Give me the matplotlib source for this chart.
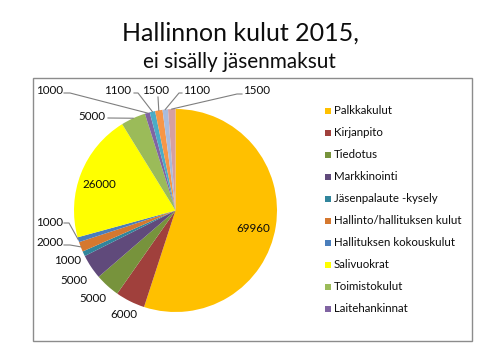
import matplotlib
matplotlib.use("Agg")
import matplotlib.pyplot as plt
import numpy as np
from matplotlib.patches import Rectangle
from matplotlib.lines import Line2D

# ---------------- data ----------------
categories = ["Palkkakulut", "Kirjanpito", "Tiedotus", "Markkinointi",
              "Jäsenpalaute -kysely", "Hallinto/hallituksen kulut",
              "Hallituksen kokouskulut", "Salivuokrat", "Toimistokulut",
              "Laitehankinnat", "", "", "", ""]
values = [69960, 6000, 5000, 5000, 1000, 2000, 1000, 26000, 5000, 1000,
          1100, 1500, 1100, 1500]
legend_count = 10  # only the first ten categories appear in the legend
title_line1 = "Hallinnon kulut 2015,"
title_line2 = "ei sisälly jäsenmaksut"

# ---------------- styles / layout ----------------
colors = ["#FFC000", "#A0403C", "#77933C", "#604A7B", "#31859C", "#D5782F",
          "#4A7EBB", "#FFFF00", "#9BBB59", "#8064A2", "#4BACC6", "#F79646",
          "#A9BCDD", "#D6A0A0"]
FONT = "Lato"
TXT = "#0D0D0D"
W, H = 480, 360
BUMP = 1.06  # slightly taller than pure width fit (reference font is narrower)

fig = plt.figure(figsize=(W / 100, H / 100), dpi=100)
fig.patch.set_facecolor("white")


def fx(px):
    return px / W


def fy(py):
    return 1 - py / H


# chart-area border
fig.patches.append(Rectangle((fx(32.5), fy(341)), fx(472) - fx(32.5), fy(78) - fy(341),
                             transform=fig.transFigure, fill=False,
                             edgecolor="#8C8C8C", linewidth=1.0))

# pie axes
cx, cy, r = 175.5, 210.5, 101.5
ax = fig.add_axes([fx(cx - r), fy(cy + r), 2 * r / W, 2 * r / H])
wedges, _ = ax.pie(values, colors=colors, startangle=90, counterclock=False,
                   radius=1, wedgeprops=dict(linewidth=0))
ax.set_xlim(-1, 1)
ax.set_ylim(-1, 1)
ax.axis("off")

# data-label positions (pixel centres) and leader paths (label side points)
label_pos = [(253, 228), (124, 314), (93, 299), (74, 280), (68, 261), (50, 243),
             (50, 222), (99, 185), (92, 117), (50, 90), (118, 90), (156, 90),
             (197, 90), (257, 90)]
leaders = {
    5: [(64, 245), (70, 245)],
    6: [(64, 223), (69, 223)],
    8: [(108, 118)],
    9: [(64, 93), (70, 93)],
    10: [(134, 93), (138, 93)],
    11: [(158, 97)],
    12: [(182, 93), (179, 93)],
    13: [(242, 94), (237, 94)],
}

fig.canvas.draw()
renderer = fig.canvas.get_renderer()


def fit(t, target):
    w = t.get_window_extent(renderer).width
    t.set_fontsize(t.get_fontsize() * target / w * BUMP)


ref = fig.text(0, 0, "69960", fontsize=9, family=FONT)
fit(ref, 32)
lab_fs = ref.get_fontsize()
ref.remove()

for i, (w, v) in enumerate(zip(wedges, values)):
    px, py = label_pos[i]
    fig.text(fx(px), fy(py), str(v), ha="center", va="center",
             fontsize=lab_fs, family=FONT, color=TXT)
    if i in leaders:
        mid = np.deg2rad((w.theta1 + w.theta2) / 2)
        ax_px = cx + r * np.cos(mid)
        ay_px = cy - r * np.sin(mid)
        pts = leaders[i] + [(ax_px, ay_px)]
        fig.lines.append(Line2D([fx(p[0]) for p in pts], [fy(p[1]) for p in pts],
                                transform=fig.transFigure, color="#7F7F7F",
                                linewidth=0.8))

# titles
t1 = fig.text(fx(240.5), fy(33), title_line1, ha="center", va="center",
              fontsize=14, family=FONT, color=TXT)
fit(t1, 225)
t2 = fig.text(fx(239), fy(62), title_line2, ha="center", va="center",
              fontsize=11, family=FONT, color=TXT)
fit(t2, 182)

# legend
leg_texts = []
for i in range(legend_count):
    y = 111 + 22 * i
    fig.patches.append(Rectangle((fx(324.5), fy(y + 3)), 6 / W, 6 / H,
                                 transform=fig.transFigure,
                                 facecolor=colors[i], edgecolor="none"))
    t = fig.text(fx(334), fy(y), categories[i], ha="left", va="center",
                 fontsize=8.5, family=FONT, color=TXT)
    leg_texts.append(t)
w_long = leg_texts[5].get_window_extent(renderer).width
scale = 125 / w_long * 1.03
for t in leg_texts:
    t.set_fontsize(t.get_fontsize() * scale)

fig.savefig("out.png", dpi=100)
